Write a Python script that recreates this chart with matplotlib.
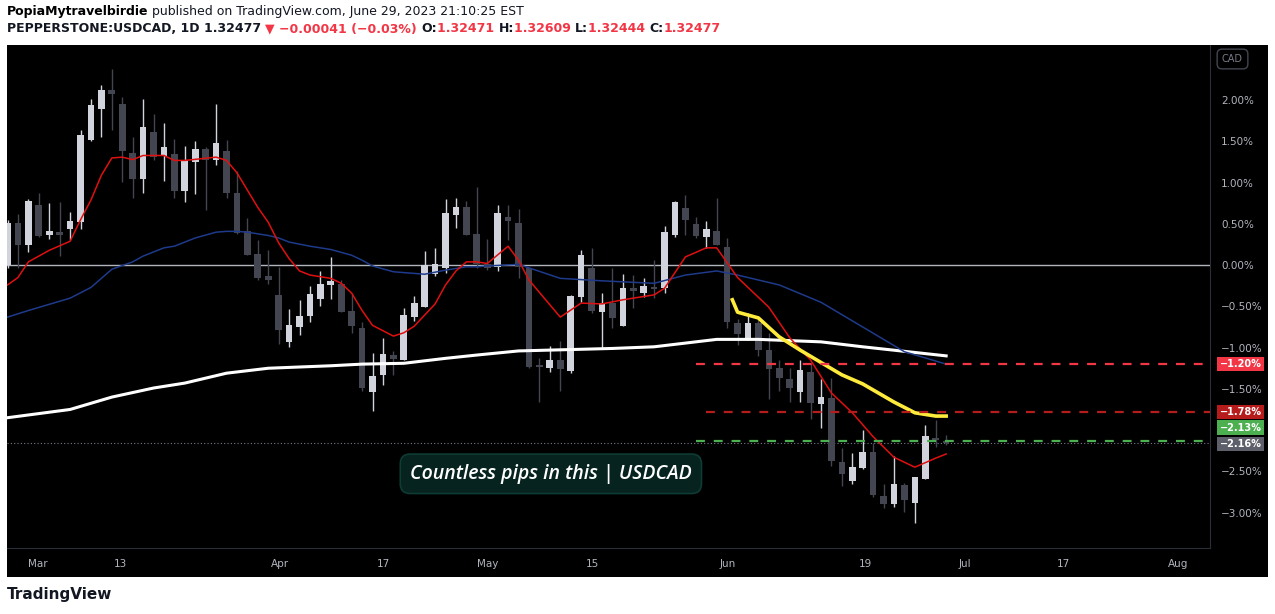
import matplotlib.pyplot as plt
import matplotlib.transforms as mtransforms
from matplotlib.patches import Rectangle

# daily candles in % change vs reference, Feb 27 .. Jun 29 2023
opens = [0.00, 0.51, 0.25, 0.73, 0.36, 0.40, 0.44, 0.52, 1.52, 1.89, 2.12, 1.95, 1.36, 1.04, 1.61, 1.32,
         1.35, 0.90, 1.25, 1.41, 1.27, 1.39, 0.88, 0.42, 0.13, -0.13, -0.36, -0.93, -0.75, -0.62, -0.41,
         -0.24, -0.23, -0.56, -0.76, -1.54, -1.33, -1.09, -1.15, -0.63, -0.51, -0.11, -0.04, 0.61, 0.70,
         0.38, 0.02, -0.02, 0.59, 0.51, -0.04, -1.22, -1.25, -1.15, -1.28, -0.39, -0.04, -0.57, -0.46,
         -0.74, -0.30, -0.34, -0.28, -0.28, 0.36, 0.69, 0.50, 0.34, 0.42, 0.22, -0.70, -0.90, -0.70,
         -1.03, -1.25, -1.38, -1.54, -1.30, -1.68, -1.61, -2.39, -2.62, -2.46, -2.27, -2.80, -2.90,
         -2.67, -2.88, -2.59, -2.10, -2.14]
highs = [0.55, 0.62, 0.80, 0.87, 0.75, 0.76, 0.65, 1.64, 2.02, 2.19, 2.38, 2.04, 1.55, 2.02, 1.83, 1.72,
         1.53, 1.45, 1.50, 1.43, 1.95, 1.52, 1.14, 0.57, 0.30, 0.18, -0.02, -0.53, -0.42, -0.25, -0.07,
         0.10, -0.18, -0.34, -0.69, -1.07, -0.88, -1.04, -0.52, -0.38, 0.17, 0.21, 0.80, 0.82, 0.78,
         0.95, 0.32, 0.73, 0.73, 0.68, -0.04, -1.13, -0.98, -0.92, -0.36, 0.18, 0.21, -0.34, -0.04,
         -0.11, -0.12, -0.16, 0.06, 0.48, 0.78, 0.85, 0.58, 0.53, 0.82, 0.33, -0.65, -0.58, -0.64,
         -0.82, -1.15, -1.25, -1.15, -1.19, -1.38, -1.37, -2.22, -2.28, -2.00, -2.16, -2.65, -2.31,
         -2.64, -2.57, -1.94, -1.88, -2.06]
lows = [-0.04, -0.04, 0.16, 0.34, 0.32, 0.11, 0.30, 0.44, 1.50, 1.56, 1.64, 1.01, 0.82, 0.88, 1.27, 1.02,
        0.82, 0.76, 0.86, 0.67, 1.21, 0.81, 0.38, 0.12, -0.18, -0.23, -0.95, -0.99, -0.85, -0.69, -0.50,
        -0.41, -0.57, -0.82, -1.53, -1.77, -1.45, -1.33, -1.15, -0.68, -0.51, -0.13, -0.10, 0.45, 0.36,
        -0.04, -0.06, -0.07, 0.30, -0.16, -1.25, -1.66, -1.30, -1.52, -1.31, -0.45, -0.58, -1.01, -0.76,
        -0.74, -0.52, -0.39, -0.40, -0.34, 0.34, 0.36, 0.33, 0.21, 0.24, -0.76, -0.97, -0.91, -1.10,
        -1.62, -1.52, -1.66, -1.66, -1.87, -1.98, -2.44, -2.68, -2.65, -2.47, -2.81, -2.95, -2.93,
        -2.99, -3.13, -2.59, -2.21, -2.18]
closes = [0.51, 0.25, 0.78, 0.35, 0.41, 0.36, 0.53, 1.58, 1.94, 2.12, 2.07, 1.39, 1.05, 1.68, 1.31, 1.43,
          0.90, 1.27, 1.41, 1.27, 1.48, 0.87, 0.39, 0.12, -0.15, -0.18, -0.79, -0.72, -0.62, -0.35, -0.23,
          -0.19, -0.57, -0.74, -1.49, -1.35, -1.08, -1.14, -0.61, -0.46, 0.00, 0.01, 0.63, 0.70, 0.36,
          0.02, -0.04, 0.63, 0.53, -0.02, -1.24, -1.24, -1.15, -1.26, -0.38, 0.12, -0.56, -0.46, -0.64,
          -0.28, -0.31, -0.25, -0.29, 0.40, 0.76, 0.55, 0.35, 0.44, 0.24, -0.69, -0.84, -0.70, -1.03,
          -1.26, -1.37, -1.49, -1.27, -1.67, -1.60, -2.38, -2.53, -2.45, -2.27, -2.79, -2.90, -2.65,
          -2.85, -2.57, -2.07, -2.12, -2.16]

# moving averages (bar index, %)
ma_fast_x = [0, 1, 2, 4, 6, 7, 8, 9, 10, 11, 12, 13, 15, 16, 17, 20, 21, 22, 23, 24, 25, 26, 27, 28, 29,
             31, 32, 33, 34, 35, 37, 38, 39, 41, 42, 43, 44, 45, 46, 48, 49, 50, 53, 55, 57, 59, 62, 63,
             65, 67, 68, 70, 73, 75, 77, 79, 81, 83, 85, 87, 89, 90]
ma_fast_y = [-0.24, -0.15, 0.04, 0.18, 0.29, 0.55, 0.79, 1.09, 1.30, 1.31, 1.28, 1.33, 1.33, 1.27, 1.27,
             1.31, 1.27, 1.12, 0.91, 0.70, 0.52, 0.27, 0.08, -0.07, -0.12, -0.16, -0.22, -0.34, -0.55,
             -0.73, -0.86, -0.82, -0.74, -0.47, -0.24, -0.07, 0.04, 0.04, 0.02, 0.23, 0.06, -0.18, -0.63,
             -0.46, -0.47, -0.42, -0.36, -0.28, 0.10, 0.21, 0.21, -0.15, -0.51, -0.88, -1.15, -1.55,
             -1.79, -2.08, -2.33, -2.45, -2.34, -2.29]
ma_mid_x = [0, 2, 6, 8, 10, 12, 13, 15, 16, 18, 20, 21, 22, 23, 25, 26, 27, 29, 31, 33, 34, 35, 37, 40,
            42, 44, 45, 46, 49, 53, 57, 62, 65, 68, 70, 74, 78, 82, 86, 90]
ma_mid_y = [-0.63, -0.55, -0.40, -0.27, -0.05, 0.04, 0.11, 0.21, 0.23, 0.33, 0.40, 0.41, 0.41, 0.40, 0.36,
            0.33, 0.28, 0.23, 0.19, 0.12, 0.06, -0.01, -0.08, -0.11, -0.06, -0.02, -0.02, -0.01, 0.01,
            -0.16, -0.19, -0.22, -0.12, -0.07, -0.12, -0.24, -0.45, -0.75, -1.05, -1.20]
ma_slow_x = [0, 6, 10, 14, 17, 21, 25, 31, 34, 38, 42, 45, 49, 58, 62, 68, 72, 78, 82, 90]
ma_slow_y = [-1.85, -1.75, -1.60, -1.49, -1.43, -1.31, -1.25, -1.22, -1.20, -1.19, -1.13, -1.09, -1.04,
             -1.01, -0.99, -0.90, -0.90, -0.93, -0.99, -1.10]
ma_yel_x = [69.5, 70, 72, 74, 76, 78, 80, 82, 85, 87, 89, 90]
ma_yel_y = [-0.42, -0.57, -0.64, -0.87, -1.03, -1.18, -1.33, -1.44, -1.66, -1.79, -1.83, -1.83]

tick_pos = [2.9, 10.8, 26.1, 36.0, 46.0, 56.1, 69.1, 82.3, 91.8, 101.2, 112.2]
tick_lab = ["Mar", "13", "Apr", "17", "May", "15", "Jun", "19", "Jul", "17", "Aug"]
y_ticks = [2.0, 1.5, 1.0, 0.5, 0.0, -0.5, -1.0, -1.5, -2.0, -2.5, -3.0]

levels = [(-1.20, 66, "#f23645", "-1.20%", -1.20),
          (-1.78, 67, "#b71c1c", "-1.78%", -1.78),
          (-2.13, 66, "#4caf50", "-2.13%", -1.97)]
last_pct = -2.16

W, H = 1275, 614
fig = plt.figure(figsize=(W / 100, H / 100), dpi=100)
fig.patch.set_facecolor("white")
bg = fig.add_axes([7 / W, 1 - 577 / H, 1261 / W, 532 / H], zorder=-5)
bg.set_facecolor("black")
bg.set_xticks([])
bg.set_yticks([])
for s in bg.spines.values():
    s.set_visible(False)

ax = fig.add_axes([7 / W, 1 - 548 / H, 1203 / W, 503 / H])
ax.set_facecolor("black")

up_c, dn_c = "#d1d4dc", "#434651"
for i, (o, h, l, c) in enumerate(zip(opens, highs, lows, closes)):
    col = up_c if c >= o else dn_c
    ax.plot([i, i], [l, h], color=col, lw=1, zorder=3, solid_capstyle="butt")
    ax.add_patch(Rectangle((i - 0.32, min(o, c)), 0.64, max(abs(c - o), 0.03),
                           facecolor=col, edgecolor="none", zorder=4))

ax.axhline(0, color="#b2b5be", lw=1, zorder=2)
ax.plot(ma_slow_x, ma_slow_y, color="white", lw=2.2, zorder=5)
ax.plot(ma_mid_x, ma_mid_y, color="#1e3a8a", lw=1.1, zorder=5)
ax.plot(ma_fast_x, ma_fast_y, color="#e01010", lw=1.1, zorder=5)
ax.plot(ma_yel_x, ma_yel_y, color="#ffeb3b", lw=2.6, zorder=6)

for val, start, col, lab, ypos in levels:
    ax.plot([start, 116], [val, val], color=col, lw=1.6, ls=(0, (4, 4)), zorder=6)
ax.axhline(last_pct, color="#787b86", lw=0.8, ls=(0, (1, 2)), zorder=2)

ax.set_xlim(-0.05, 115.3)
ax.set_ylim(-3.43, 2.67)
ax.set_xticks(tick_pos)
ax.set_xticklabels(tick_lab)
ax.set_yticks(y_ticks)
ax.set_yticklabels([f"{v:.2f}%".replace("-", "\u2212") for v in y_ticks])
ax.yaxis.tick_right()
ax.tick_params(colors="#b2b5be", labelsize=7.5, length=0, pad=8)
for s in ["top", "left"]:
    ax.spines[s].set_visible(False)
ax.spines["right"].set_color("#2a2e39")
ax.spines["bottom"].set_color("#2a2e39")

tr = mtransforms.blended_transform_factory(ax.transAxes, ax.transData)
for val, start, col, lab, ypos in levels:
    ax.text(1.008, ypos, lab.replace("-", "\u2212"), transform=tr, color="white", fontsize=7,
            fontweight="bold", va="center", ha="left",
            bbox=dict(boxstyle="square,pad=0.22", fc=col, ec="none"), zorder=10, clip_on=False)
ax.text(1.008, last_pct - 0.01, "\u22122.16%", transform=tr, color="white", fontsize=7,
        fontweight="bold", va="center", ha="left",
        bbox=dict(boxstyle="square,pad=0.22", fc="#5d606b", ec="none"), zorder=10, clip_on=False)

fig.text(1222 / W, 1 - 59 / H, "CAD", color="#787b86", fontsize=7, va="center", ha="left",
         bbox=dict(boxstyle="round,pad=0.5", fc="black", ec="#434651"))

ax.text(52.1, -2.53, "Countless pips in this | USDCAD", color="white", fontsize=14, style="italic",
        family="Open Sans", fontweight="semibold", ha="center", va="center", zorder=10,
        bbox=dict(boxstyle="round,pad=0.5", fc="#06231f", ec="#0e3b33", lw=1.2))

fig.text(7 / W, 1 - 12 / H, "PopiaMytravelbirdie", fontsize=9, fontweight="bold", va="center")
fig.text(152 / W, 1 - 12 / H, "published on TradingView.com, June 29, 2023 21:10:25 EST",
         fontsize=9, va="center", color="#131722")
row2 = [("PEPPERSTONE:USDCAD, 1D ", "#131722"), ("1.32477 ", "#131722"),
        ("\u25bc \u22120.00041 (\u22120.03%) ", "#f23645"), ("O:", "#131722"), ("1.32471 ", "#f23645"),
        ("H:", "#131722"), ("1.32609 ", "#f23645"), ("L:", "#131722"), ("1.32444 ", "#f23645"),
        ("C:", "#131722"), ("1.32477", "#f23645")]
x0 = 7
fig.canvas.draw()
rend = fig.canvas.get_renderer()
for s, c in row2:
    t = fig.text(x0 / W, 1 - 29 / H, s, fontsize=9, fontweight="bold", color=c, va="center")
    x0 += t.get_window_extent(rend).width
fig.text(7 / W, 1 - 595 / H, "TradingView", fontsize=11, fontweight="bold", color="#131722",
         va="center")

fig.savefig("out.png", dpi=100, facecolor=fig.get_facecolor())
